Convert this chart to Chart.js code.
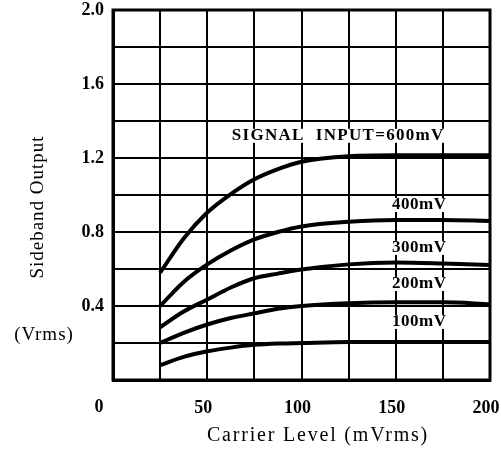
<!DOCTYPE html>
<html>
<head>
<meta charset="utf-8">
<script src="https://cdn.jsdelivr.net/npm/chart.js@4/dist/chart.umd.min.js"></script>
<style>
  html, body { margin: 0; padding: 0; background: #fff; }
  #wrap { width: 501px; height: 450px; position: relative; }
</style>
</head>
<body>
<div id="wrap"><canvas id="chart"></canvas></div>
<script>
// carrier level (mVrms)
var carrier = [25, 37.5, 50, 62.5, 75, 87.5, 100, 125, 150, 175, 200];

// sideband output (Vrms) per signal input
var out600 = [0.58, 0.765, 0.905, 1.005, 1.085, 1.14, 1.18, 1.21, 1.215, 1.215, 1.215];
var out400 = [0.40, 0.53, 0.625, 0.70, 0.76, 0.80, 0.83, 0.855, 0.865, 0.865, 0.86];
var out300 = [0.285, 0.37, 0.435, 0.50, 0.55, 0.575, 0.597, 0.625, 0.635, 0.63, 0.622];
var out200 = [0.20, 0.255, 0.30, 0.335, 0.36, 0.385, 0.40, 0.415, 0.42, 0.42, 0.41];
var out100 = [0.08, 0.125, 0.155, 0.175, 0.19, 0.197, 0.20, 0.205, 0.205, 0.205, 0.205];

var seriesNames = ['SIGNAL\u00A0\u00A0INPUT=600mV', '400mV', '300mV', '200mV', '100mV'];
// where each curve's label sits (carrier, output)
var labelX = [63, 148, 148, 148, 148];
var labelY = [1.32, 0.946, 0.714, 0.519, 0.314];

var serif = '"Liberation Serif", "DejaVu Serif", serif';

function toPoints(ys) {
  var pts = [];
  for (var i = 0; i < carrier.length; i++) {
    pts.push({x: carrier[i], y: ys[i]});
  }
  return pts;
}

var allSeries = [out600, out400, out300, out200, out100];
var datasets = [];
for (var s = 0; s < allSeries.length; s++) {
  datasets.push({
    label: seriesNames[s],
    data: toPoints(allSeries[s]),
    borderColor: '#000',
    borderWidth: 4,
    pointRadius: 0,
    fill: false,
    cubicInterpolationMode: 'monotone'
  });
}

// frame, curve labels, axis titles and the shared origin "0"
var textPlugin = {
  id: 'textPlugin',
  afterDatasetsDraw: function(chart) {
    var ctx = chart.ctx;
    var a = chart.chartArea;
    var xs = chart.scales.x, ys = chart.scales.y;
    ctx.save();

    ctx.strokeStyle = '#000';
    ctx.lineWidth = 3;
    ctx.strokeRect(a.left, a.top, a.right - a.left, a.bottom - a.top);

    ctx.font = 'bold 17px ' + serif;
    ctx.textBaseline = 'middle';
    ctx.textAlign = 'left';
    for (var i = 0; i < seriesNames.length; i++) {
      ctx.letterSpacing = i === 0 ? '1.3px' : '0.5px';
      var px = xs.getPixelForValue(labelX[i]);
      var py = ys.getPixelForValue(labelY[i]);
      var w = ctx.measureText(seriesNames[i]).width;
      ctx.fillStyle = '#fff';
      ctx.fillRect(px - 1, py - 7, w + 2, 14);
      ctx.fillStyle = '#000';
      ctx.fillText(seriesNames[i], px, py);
    }

    ctx.letterSpacing = '0px';
    ctx.font = 'bold 18px ' + serif;
    ctx.textAlign = 'center';
    ctx.fillText('0', a.left - 14, 407);

    ctx.font = '20px ' + serif;
    ctx.letterSpacing = '1.8px';
    ctx.fillText('Carrier Level (mVrms)', 318, 436);

    ctx.font = '19px ' + serif;
    ctx.letterSpacing = '1px';
    ctx.fillText('(Vrms)', 44, 335);
    ctx.translate(38, 207);
    ctx.rotate(-Math.PI / 2);
    ctx.fillText('Sideband Output', 0, 0);
    ctx.restore();
  }
};

new Chart(document.getElementById('chart'), {
  type: 'line',
  data: { datasets: datasets },
  plugins: [textPlugin],
  options: {
    responsive: true,
    maintainAspectRatio: false,
    animation: false,
    layout: { padding: { left: 0, top: 10, right: 11, bottom: 0 } },
    plugins: { legend: { display: false }, tooltip: { enabled: false } },
    scales: {
      x: {
        type: 'linear',
        min: 0,
        max: 200,
        afterFit: function(scale) {
          scale.height = 70;
          scale.paddingLeft = 0;
          scale.paddingRight = 0;
        },
        grid: { color: '#000', lineWidth: 2, drawTicks: false },
        border: { color: '#000', width: 3 },
        ticks: {
          stepSize: 25,
          padding: 18,
          labelOffset: -4,
          color: '#000',
          maxRotation: 0,
          autoSkip: false,
          font: { family: serif, size: 18, weight: 'bold' },
          callback: function(v, i) { return (i % 2 === 0 && i > 0) ? String(v) : ''; }
        }
      },
      y: {
        min: 0,
        max: 2.0,
        afterFit: function(scale) {
          scale.width = 113;
          scale.paddingTop = 0;
          scale.paddingBottom = 0;
        },
        grid: { color: '#000', lineWidth: 2, drawTicks: false },
        border: { color: '#000', width: 3 },
        ticks: {
          stepSize: 0.2,
          padding: 9,
          color: '#000',
          autoSkip: false,
          font: { family: serif, size: 18, weight: 'bold' },
          callback: function(v, i) { return (i % 2 === 0 && i > 0) ? v.toFixed(1) : ''; }
        }
      }
    }
  }
});
</script>
</body>
</html>
